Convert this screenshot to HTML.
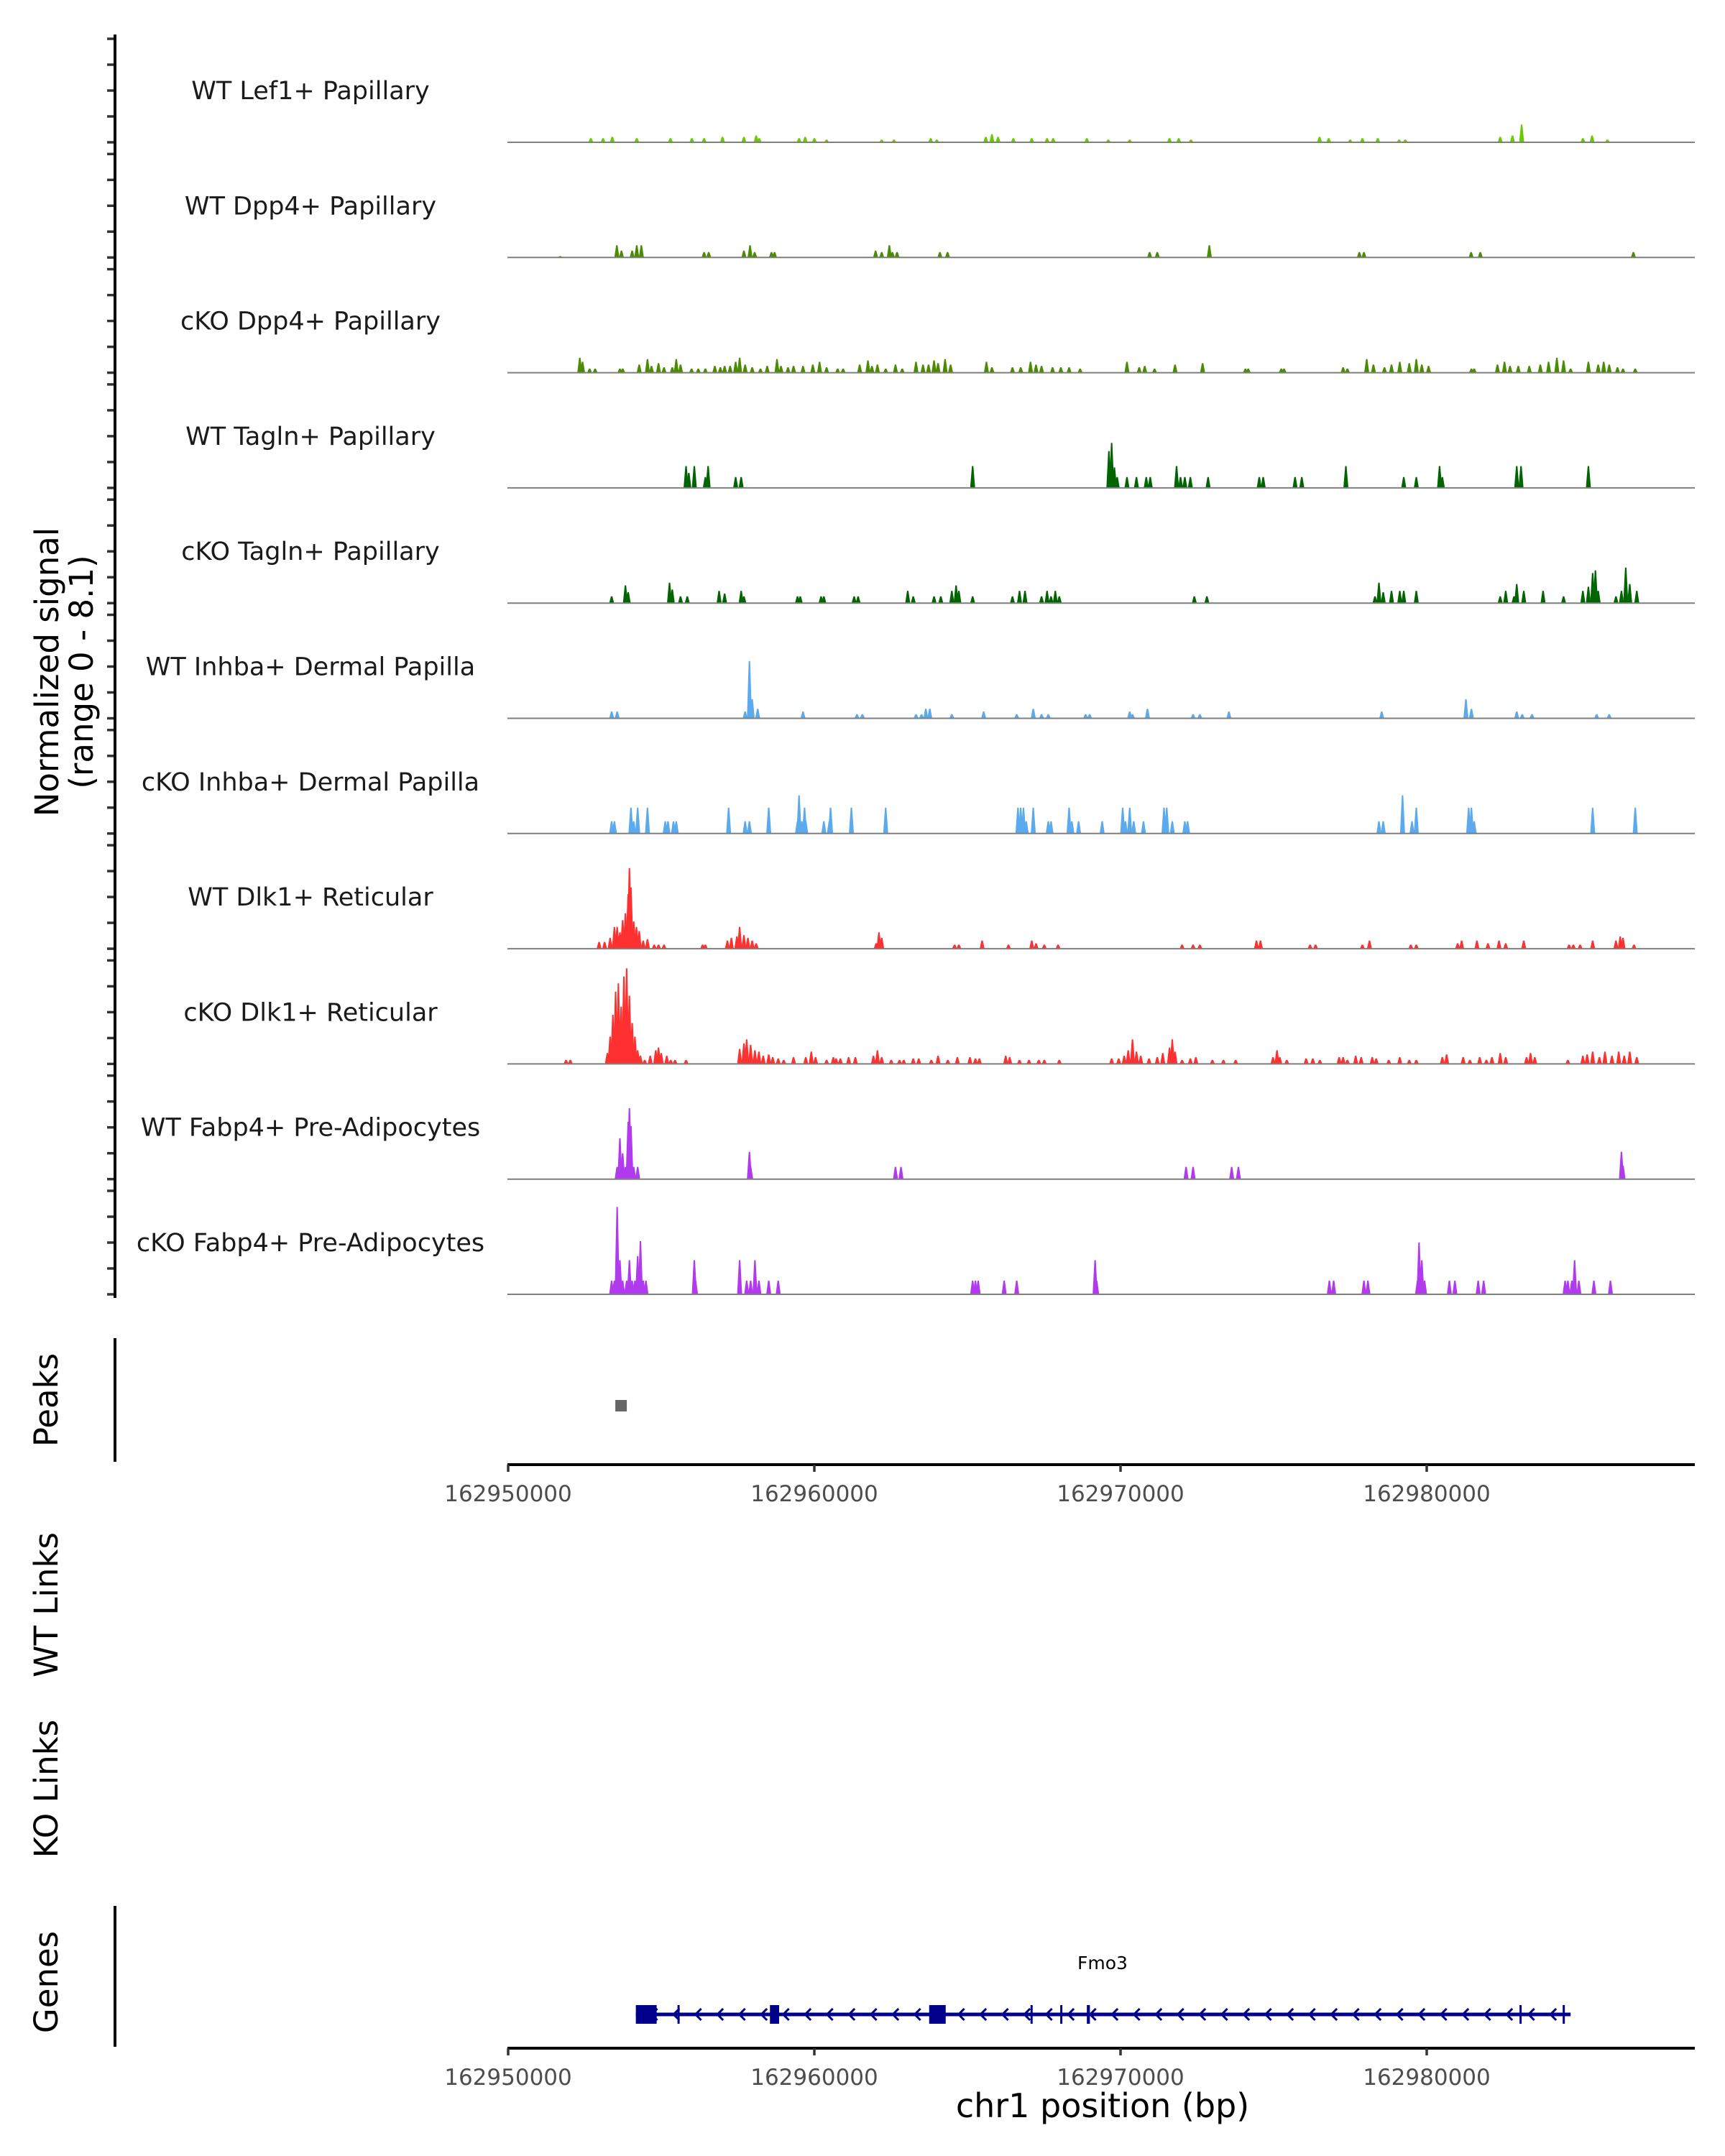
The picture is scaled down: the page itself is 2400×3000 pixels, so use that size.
<!DOCTYPE html>
<html><head><meta charset="utf-8"><style>
html,body{margin:0;padding:0;background:#fff;}
svg{display:block;font-family:"DejaVu Sans","Liberation Sans",sans-serif;}
</style></head><body>
<svg id="chart" width="2400" height="3000" viewBox="0 0 2400 3000" xmlns="http://www.w3.org/2000/svg">
<g id="tracks"></g>
<g id="axes"></g>
</svg>
<script>
// ---- data (positions in kb from 162,950,000; values = normalized signal) ----
const trackNames = ["WT Lef1+ Papillary","WT Dpp4+ Papillary","cKO Dpp4+ Papillary","WT Tagln+ Papillary","cKO Tagln+ Papillary","WT Inhba+ Dermal Papilla","cKO Inhba+ Dermal Papilla","WT Dlk1+ Reticular","cKO Dlk1+ Reticular","WT Fabp4+ Pre-Adipocytes","cKO Fabp4+ Pre-Adipocytes"];
const trackColors = ["#66cc00","#4a8c00","#4a8c00","#006400","#006400","#5caaee","#5caaee","#ff3030","#ff3030","#b23aee","#b23aee"];
const lef1WT = [[2.7,.3],[3.1,.3],[3.4,.4],[4.2,.3],[5.3,.3],[6.0,.3],[6.4,.3],[7.0,.4],[7.7,.4],[8.1,.5],[8.2,.3],[9.5,.3],[9.7,.4],[10.0,.3],[10.4,.2],[12.2,.2],[12.6,.2],[13.8,.3],[14.0,.2],[15.6,.4],[15.8,.6],[16.0,.4],[16.5,.3],[17.1,.3],[17.6,.3],[17.8,.3],[18.9,.3],[19.6,.2],[20.3,.2],[21.6,.3],[21.9,.3],[22.3,.2],[26.5,.4],[26.8,.3],[27.5,.2],[27.9,.3],[28.4,.3],[29.1,.2],[29.3,.2],[32.4,.4],[32.8,.5],[33.1,1.3],[35.1,.3],[35.4,.5],[35.9,.2]];
const dpp4WT = [[1.7,.1],[3.55,.9],[3.7,.5],[4.05,.5],[4.2,.9],[4.35,.9],[6.4,.4],[6.55,.4],[7.7,.5],[7.9,.9],[8.05,.4],[8.6,.4],[8.7,.4],[12.0,.5],[12.2,.4],[12.45,.9],[12.55,.4],[12.7,.4],[14.1,.4],[14.35,.4],[20.95,.4],[21.2,.4],[22.9,.9],[27.8,.4],[27.95,.4],[31.45,.4],[31.75,.4],[36.75,.4]];
const dpp4KO = [[2.34,1.1],[2.43,.8],[2.66,.3],[2.84,.3],[3.65,.3],[3.74,.3],[4.28,.6],[4.55,1.0],[4.68,.5],[4.91,.7],[5.09,.4],[5.36,.4],[5.49,1.0],[5.63,.6],[5.99,.3],[6.21,.3],[6.44,.3],[6.75,.5],[6.93,.4],[7.07,.5],[7.25,.5],[7.43,.8],[7.56,1.1],[7.74,.6],[7.97,.4],[8.24,.3],[8.46,.5],[8.78,1.0],[8.91,.5],[9.14,.4],[9.32,.5],[9.63,.5],[9.95,.6],[10.17,.8],[10.4,.4],[10.76,.3],[10.94,.3],[11.48,.6],[11.75,.9],[11.88,.5],[12.06,.6],[12.33,.3],[12.65,.6],[12.87,.3],[13.32,.8],[13.55,.6],[13.73,.6],[13.91,.9],[14.04,.7],[14.27,1.0],[14.45,.6],[15.62,.8],[15.8,.4],[16.47,.4],[16.74,.4],[17.06,.8],[17.24,.6],[17.42,.5],[17.78,.4],[18.05,.4],[18.32,.4],[18.68,.3],[20.21,.8],[20.61,.4],[20.79,.5],[21.11,.3],[21.78,.6],[22.68,.7],[24.08,.3],[24.17,.3],[25.25,.3],[25.34,.3],[27.27,.4],[27.41,.3],[28.04,1.0],[28.26,.6],[28.62,.4],[28.85,.6],[29.12,.8],[29.43,.7],[29.66,1.0],[29.84,.6],[30.06,.5],[31.46,.3],[31.55,.3],[32.31,.6],[32.54,.8],[32.72,.5],[32.99,.5],[33.35,.5],[33.71,.6],[33.98,.8],[34.25,1.1],[34.47,.9],[34.7,.3],[35.28,.8],[35.6,.6],[35.78,.8],[35.96,.6],[36.23,.4],[36.41,.3],[36.81,.3]];
const taglnWT = [[5.81,1.6],[5.9,1.1],[6.08,1.6],[6.44,.8],[6.53,1.6],[7.43,.8],[7.61,.8],[15.17,1.6],[19.62,2.7],[19.71,3.3],[19.8,1.5],[19.89,.8],[20.21,.8],[20.52,.8],[20.84,.8],[20.97,.8],[21.83,1.6],[21.96,.8],[22.1,.8],[22.28,.8],[22.86,.8],[24.53,.8],[24.66,.8],[25.7,.8],[25.92,.8],[27.36,1.6],[29.25,.8],[29.66,.8],[30.42,1.6],[30.51,.8],[32.94,1.6],[33.08,1.6],[35.28,1.6]];
const taglnKO = [[3.38,.5],[3.83,1.3],[3.92,.8],[5.27,1.5],[5.36,1.0],[5.63,.5],[5.85,.5],[6.89,.9],[7.07,.7],[7.61,.9],[7.7,.5],[9.45,.5],[9.54,.5],[10.22,.5],[10.31,.5],[11.3,.5],[11.43,.5],[13.05,.9],[13.23,.5],[13.91,.5],[14.13,.5],[14.49,.9],[14.63,1.3],[14.72,.9],[15.17,.5],[16.47,.5],[16.7,.9],[16.88,.9],[17.42,.5],[17.6,.9],[17.73,.5],[17.87,.9],[18.0,.5],[22.41,.5],[22.82,.5],[28.31,.5],[28.44,1.5],[28.58,.8],[28.85,.9],[29.12,.9],[29.25,.9],[29.66,.9],[32.4,.5],[32.58,.9],[32.85,.5],[32.94,1.4],[33.17,.9],[33.8,.9],[34.47,.5],[35.1,.9],[35.28,1.2],[35.42,2.2],[35.51,2.4],[35.6,.9],[36.18,.5],[36.36,.9],[36.5,2.6],[36.63,1.4],[36.86,.9]];
const inhbaWT = [[3.38,.5],[3.56,.5],[7.74,.5],[7.88,4.2],[7.97,1.4],[8.15,.7],[9.63,.5],[11.39,.3],[11.57,.3],[13.32,.3],[13.5,.3],[13.64,.7],[13.77,.7],[14.49,.3],[15.53,.5],[16.61,.3],[17.15,.7],[17.42,.3],[17.64,.3],[18.86,.3],[18.99,.3],[20.3,.5],[20.39,.3],[20.88,.7],[22.37,.3],[22.59,.3],[23.54,.5],[28.53,.5],[31.28,1.4],[31.46,.7],[32.94,.5],[33.12,.3],[33.44,.3],[35.55,.3],[35.96,.3]];
const inhbaKO = [[3.38,.9],[3.47,.9],[4.01,1.9],[4.1,.9],[4.23,1.9],[4.55,1.9],[5.13,.9],[5.22,.9],[5.4,.9],[5.49,.9],[7.2,1.9],[7.74,.9],[7.88,.9],[8.51,1.9],[9.45,.9],[9.5,2.8],[9.59,.9],[9.68,1.9],[9.72,.9],[10.31,.9],[10.49,.9],[10.53,1.9],[11.21,1.9],[12.33,1.9],[16.65,1.9],[16.74,1.9],[16.83,1.9],[16.92,.9],[17.15,1.9],[17.64,.9],[17.73,.9],[18.32,1.9],[18.41,.9],[18.63,.9],[19.4,.9],[20.07,1.9],[20.16,.9],[20.3,1.9],[20.43,.9],[20.75,.9],[21.42,1.9],[21.51,1.9],[21.69,.9],[22.1,.9],[22.19,.9],[28.44,.9],[28.58,.9],[29.21,2.8],[29.52,.9],[29.66,1.9],[31.37,1.9],[31.46,1.9],[31.55,.9],[35.42,1.9],[36.81,1.9]];
const dlk1WT = [[2.97,.5],[3.15,.5],[3.33,.8],[3.47,1.6],[3.56,1.6],[3.65,1.2],[3.74,2.1],[3.83,2.6],[3.92,4.0],[3.96,5.9],[4.01,4.5],[4.1,2.0],[4.19,1.6],[4.28,1.3],[4.41,.6],[4.55,.7],[4.77,.3],[4.91,.3],[5.09,.3],[6.35,.3],[6.44,.3],[7.16,.6],[7.29,.8],[7.47,.9],[7.56,1.6],[7.7,1.0],[7.83,.8],[7.97,.6],[8.1,.4],[12.02,.4],[12.11,1.2],[12.2,.8],[14.58,.3],[14.72,.3],[15.48,.6],[16.34,.3],[17.1,.6],[17.24,.4],[17.51,.3],[17.96,.3],[22.01,.3],[22.37,.3],[22.59,.3],[24.44,.6],[24.57,.6],[26.19,.3],[26.37,.3],[27.9,.3],[28.13,.6],[29.48,.3],[29.66,.3],[31.01,.4],[31.14,.6],[31.64,.6],[32.0,.4],[32.36,.6],[32.58,.4],[33.17,.6],[34.65,.3],[34.79,.3],[35.01,.3],[35.42,.6],[36.18,.6],[36.32,.9],[36.41,.8],[36.77,.3]];
const dlk1KO = [[1.89,.3],[2.03,.3],[3.24,.8],[3.33,2.0],[3.42,3.6],[3.51,5.3],[3.6,5.9],[3.69,4.2],[3.78,6.4],[3.87,7.0],[3.96,5.0],[4.05,3.0],[4.14,2.0],[4.23,1.0],[4.32,.6],[4.46,.3],[4.64,.6],[4.82,1.0],[4.91,1.2],[5.0,.8],[5.18,.6],[5.31,.3],[5.45,.3],[5.81,.3],[7.56,1.1],[7.7,1.5],[7.79,1.8],[7.92,1.4],[8.06,1.0],[8.19,.9],[8.33,.6],[8.51,.7],[8.64,.5],[8.82,.4],[9.0,.3],[9.32,.5],[9.72,.5],[9.9,.9],[10.04,.5],[10.4,.3],[10.62,.5],[10.71,.4],[10.85,.4],[11.12,.5],[11.34,.5],[11.93,.6],[12.06,1.0],[12.2,.5],[12.51,.3],[12.78,.3],[12.92,.3],[13.23,.4],[13.41,.4],[13.82,.3],[14.04,.6],[14.36,.3],[14.67,.5],[15.08,.5],[15.26,.4],[15.39,.4],[16.25,.6],[16.38,.5],[16.7,.3],[17.01,.3],[17.33,.3],[17.51,.3],[18.0,.3],[19.71,.4],[19.94,.4],[20.12,.6],[20.25,1.0],[20.39,1.8],[20.52,.9],[20.66,.6],[20.93,.4],[21.2,.5],[21.38,.8],[21.6,1.2],[21.69,1.8],[21.78,.9],[22.01,.3],[22.28,.4],[22.46,.5],[23.0,.3],[23.36,.3],[23.76,.3],[24.98,.5],[25.11,1.0],[25.2,.5],[25.43,.3],[26.06,.4],[26.28,.4],[26.51,.3],[27.14,.5],[27.27,.5],[27.41,.3],[27.68,.6],[27.86,.5],[28.22,.5],[28.35,.4],[28.76,.3],[29.12,.5],[29.43,.3],[29.66,.3],[30.51,.5],[30.65,.7],[31.19,.5],[31.41,.3],[31.73,.5],[31.95,.3],[32.13,.5],[32.4,.8],[32.58,.5],[33.26,.5],[33.39,.8],[33.53,.5],[34.61,.3],[35.1,.6],[35.24,.7],[35.42,.9],[35.64,.5],[35.82,.9],[36.05,.6],[36.27,.9],[36.45,.6],[36.63,.9],[36.86,.5]];
const fabp4WT = [[3.56,.9],[3.65,3.0],[3.74,1.9],[3.83,.9],[3.92,4.2],[3.96,5.2],[4.01,3.9],[4.1,.9],[4.23,.9],[7.88,2.0],[7.92,.9],[12.65,.9],[12.83,.9],[22.14,.9],[22.37,.9],[23.63,.9],[23.85,.9],[36.36,2.0],[36.41,1.0]];
const fabp4KO = [[3.38,1.0],[3.47,1.0],[3.56,6.4],[3.65,2.5],[3.74,1.0],[3.87,1.0],[3.96,2.5],[4.05,1.0],[4.14,1.0],[4.23,2.8],[4.32,3.9],[4.41,1.0],[4.5,1.0],[6.08,2.5],[6.12,1.0],[7.56,2.5],[7.79,1.0],[7.92,1.0],[8.06,2.5],[8.19,1.0],[8.51,1.0],[8.82,1.0],[15.17,1.0],[15.26,1.0],[15.35,1.0],[16.2,1.0],[16.61,1.0],[19.17,2.5],[19.22,1.0],[26.82,1.0],[26.96,1.0],[27.95,1.0],[28.08,1.0],[29.7,1.0],[29.75,3.8],[29.84,2.5],[29.93,1.0],[30.74,1.0],[30.92,1.0],[31.68,1.0],[31.86,1.0],[34.52,1.0],[34.61,1.0],[34.74,1.0],[34.83,2.5],[34.97,1.0],[35.46,1.0],[36.0,1.0]];
const trackData = [lef1WT,dpp4WT,dpp4KO,taglnWT,taglnKO,inhbaWT,inhbaKO,dlk1WT,dlk1KO,fabp4WT,fabp4KO];
const peakRegions = [[3.5,3.7]];
const xTickValues = [0,10,20,30];
const xTickLabels = ["162950000","162960000","162970000","162980000"];
const geneSpan = [4.17,34.7];
const geneExons = [[4.17,4.85],[5.53,5.6],[8.55,8.85],[13.75,14.29],[17.06,17.13],[18.03,18.1],[18.9,19.0],[33.03,33.1],[34.44,34.5]];
const geneName = "Fmo3";

// ---- scales ----
const X0 = 707, PX_PER_KB = 42.6;
function xScale(kb){ return X0 + kb*PX_PER_KB; }
const BASE0 = 198, TRACK_STEP = 160.3, PX_PER_UNIT = 19.0;
function baseline(i){ return BASE0 + TRACK_STEP*i; }
function yScale(i,v){ return baseline(i) - v*PX_PER_UNIT; }
const XEND = 2358;

const NS = "http://www.w3.org/2000/svg";
function mk(tag, attrs, parent){ const e=document.createElementNS(NS,tag); for(const k in attrs) e.setAttribute(k,attrs[k]); parent.appendChild(e); return e; }
const tracksG = document.getElementById('tracks');
const axesG = document.getElementById('axes');

trackNames.forEach((name,i)=>{
  const g = mk('g',{},tracksG);
  
  
  const b = baseline(i);
  const lab = mk('text',{x:432,y:b-60,'font-size':35,'text-anchor':'middle',fill:'#1a1a1a'},g);
  lab.textContent = name;
  
  
  trackData[i].forEach(p=>{
    const x = xScale(p[0]), y = yScale(i,p[1]);
    const poly = mk('polygon',{points:`${x-3.5},${b} ${x-1},${y} ${x+1},${y} ${x+3.5},${b}`,fill:trackColors[i]},g);
    
    
  });
  const bl = mk('line',{x1:706,x2:XEND,y1:b,y2:b,stroke:'#7f7f7f','stroke-width':2},g);
  
  
  for(let k=0;k<5;k++){
    const t = mk('line',{x1:149,x2:160,y1:b-36*k,y2:b-36*k,stroke:'#333','stroke-width':3.5},axesG);
    
    
  }
});

function vline(x,y1,y2,name){
  const l = mk('line',{x1:x,x2:x,y1:y1,y2:y2,stroke:'#000','stroke-width':4},axesG);
  
  
}
vline(160,48,1806,'signal-y-axis');
vline(160,1862,2034,'peaks-y-axis');
vline(160,2652,2848,'genes-y-axis');

function rotLabel(text,x,y,size,name){
  const t = mk('text',{x:x,y:y,'font-size':size,'text-anchor':'middle',fill:'#000',transform:`rotate(-90 ${x} ${y})`},axesG);
  t.textContent = text;
  
  
}
rotLabel('Normalized signal',81,935,45,'y-axis-title');
rotLabel('(range 0 - 8.1)',129,935,45,'y-axis-subtitle');
rotLabel('Peaks',80,1948,45,'peaks-label');
rotLabel('WT Links',80,2233,45,'wt-links-label');
rotLabel('KO Links',80,2489,45,'ko-links-label');
rotLabel('Genes',80,2758,45,'genes-label');

peakRegions.forEach(r=>{
  const x1=xScale(r[0]), x2=xScale(r[1]);
  const rc = mk('rect',{x:x1,y:1948,width:Math.max(x2-x1,16),height:16,fill:'#666'},axesG);
  
  
});

function xAxis(y,name){
  const l = mk('line',{x1:706,x2:XEND,y1:y,y2:y,stroke:'#000','stroke-width':4},axesG);
  
  
  xTickValues.forEach((v,k)=>{
    const x=xScale(v);
    const t = mk('line',{x1:x,x2:x,y1:y,y2:y+10,stroke:'#333','stroke-width':3.5},axesG);
    
    
    const tl = mk('text',{x:x,y:y+51,'font-size':31,'text-anchor':'middle',fill:'#4d4d4d'},axesG);
    tl.textContent = xTickLabels[k];
    
    
  });
}
xAxis(2038,'peaks-x-axis');
xAxis(2850,'genes-x-axis');

const xt = mk('text',{x:1534,y:2946,'font-size':46,'text-anchor':'middle',fill:'#000'},axesG);
xt.textContent = 'chr1 position (bp)';



// gene model
const gg = mk('g',{},axesG);


const GY = 2803;
mk('line',{x1:xScale(geneSpan[0]),x2:xScale(geneSpan[1]),y1:GY,y2:GY,stroke:'#00008b','stroke-width':5},gg);
for(let x=xScale(geneSpan[0])+25; x<xScale(geneSpan[1]); x+=30.5){
  const c = mk('polyline',{points:`${x+5},${GY-8} ${x-3},${GY} ${x+5},${GY+8}`,fill:'none',stroke:'#00008b','stroke-width':3},gg);
  
  
}
geneExons.forEach(e=>{
  const x1=xScale(e[0]), x2=xScale(e[1]);
  const r = mk('rect',{x:x1,y:GY-13,width:Math.max(x2-x1,3),height:26,fill:'#00008b'},gg);
  
  
});
const gn = mk('text',{x:1534,y:2740,'font-size':25,'text-anchor':'middle',fill:'#000'},gg);
gn.textContent = geneName;


</script>
</body></html>
